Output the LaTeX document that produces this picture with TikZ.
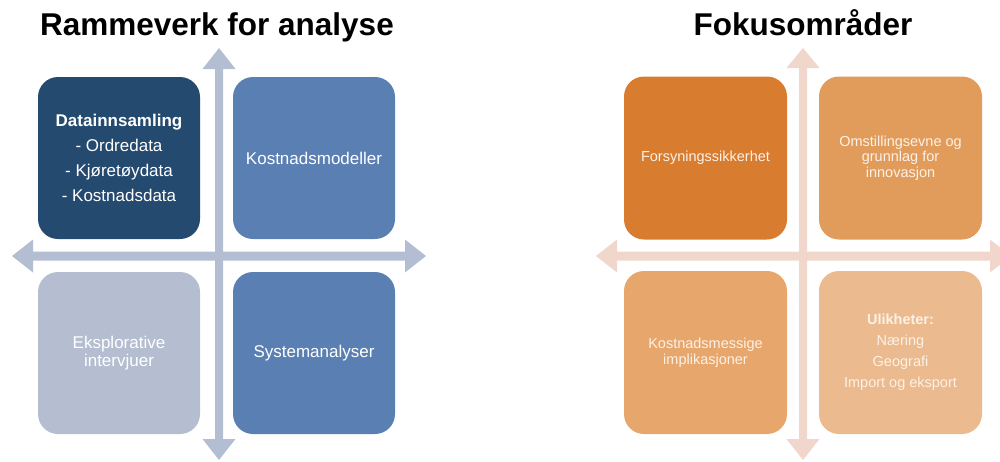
\documentclass[tikz,border=0pt]{standalone}
\usepackage{fontspec}
\setmainfont{Liberation Sans}
\definecolor{navy}{HTML}{244A6F}
\definecolor{midblue}{HTML}{5A7FB2}
\definecolor{paleblue}{HTML}{B4BED0}
\definecolor{axisblue}{HTML}{B4BED2}
\definecolor{axispink}{HTML}{F1D6CB}
\definecolor{orA}{HTML}{D87C30}
\definecolor{orB}{HTML}{E19C5C}
\definecolor{orC}{HTML}{E6A66C}
\definecolor{orD}{HTML}{EBBA8E}
\definecolor{cream}{HTML}{FDF1E6}
\begin{document}
\begin{tikzpicture}[x=1pt,y=-1pt,
  quad/.style={rectangle,rounded corners=20pt,minimum width=162pt,minimum height=162pt,inner sep=2pt,align=center,text=white},
  lquad/.style={quad,font=\fontsize{17}{25}\selectfont},
  lquadtight/.style={quad,font=\fontsize{17}{18}\selectfont},
  rquad/.style={quad,minimum width=163pt,minimum height=163pt,text=cream,font=\fontsize{14.5}{15.5}\selectfont},
  rquadloose/.style={quad,minimum width=163pt,minimum height=163pt,text=cream,font=\fontsize{14.5}{21}\selectfont},
  ttl/.style={anchor=base,font=\fontsize{31.5}{36}\selectfont\bfseries}
]
\useasboundingbox (0,0) rectangle (1000,461);
\clip (0,0) rectangle (1000,461);

% ---------- left panel ----------
\node[ttl] (t1) at (217,35) {Rammeverk for analyse};
\begin{scope}[fill=axisblue]
% vertical double arrow x=219, tips 48 and 460
\fill (219,48) -- (235.5,69) -- (223,69) -- (223,439) -- (235.5,439) -- (219,460) -- (202.5,439) -- (215,439) -- (215,69) -- (202.5,69) -- cycle;
% horizontal double arrow y=256, tips 12 and 426
\fill (12,256) -- (33,239.5) -- (33,251.5) -- (405,251.5) -- (405,239.5) -- (426,256) -- (405,272.5) -- (405,260.5) -- (33,260.5) -- (33,272.5) -- cycle;
\end{scope}
\node[lquad,fill=navy] (a1) at (119,158) {\textbf{Datainnsamling}\\- Ordredata\\- Kjøretøydata\\- Kostnadsdata};
\node[lquad,fill=midblue] (a2) at (314,158) {Kostnadsmodeller};
\node[lquadtight,fill=paleblue] (a3) at (119,353) {Eksplorative\\intervjuer};
\node[lquad,fill=midblue] (a4) at (314,353) {Systemanalyser};

% ---------- right panel ----------
\node[ttl] (t2) at (803,35) {Fokusområder};
\begin{scope}[fill=axispink]
\fill (803,48) -- (819.5,68) -- (807,68) -- (807,439) -- (819.5,439) -- (803,460) -- (786.5,439) -- (799,439) -- (799,68) -- (786.5,68) -- cycle;
\fill (596,256) -- (617,239.5) -- (617,251.5) -- (990,251.5) -- (990,239.5) -- (1011,256) -- (990,272.5) -- (990,260.5) -- (617,260.5) -- (617,272.5) -- cycle;
\end{scope}
\node[rquad,fill=orA] (b1) at (705.5,158) {Forsyningssikkerhet};
\node[rquad,fill=orB] (b2) at (900.5,158) {Omstillingsevne og\\grunnlag for\\innovasjon};
\node[rquad,fill=orC] (b3) at (705.5,352.5) {Kostnadsmessige\\implikasjoner};
\node[rquadloose,fill=orD] (b4) at (900.5,352.5) {\textbf{Ulikheter:}\\Næring\\Geografi\\Import og eksport};
\end{tikzpicture}
\end{document}
